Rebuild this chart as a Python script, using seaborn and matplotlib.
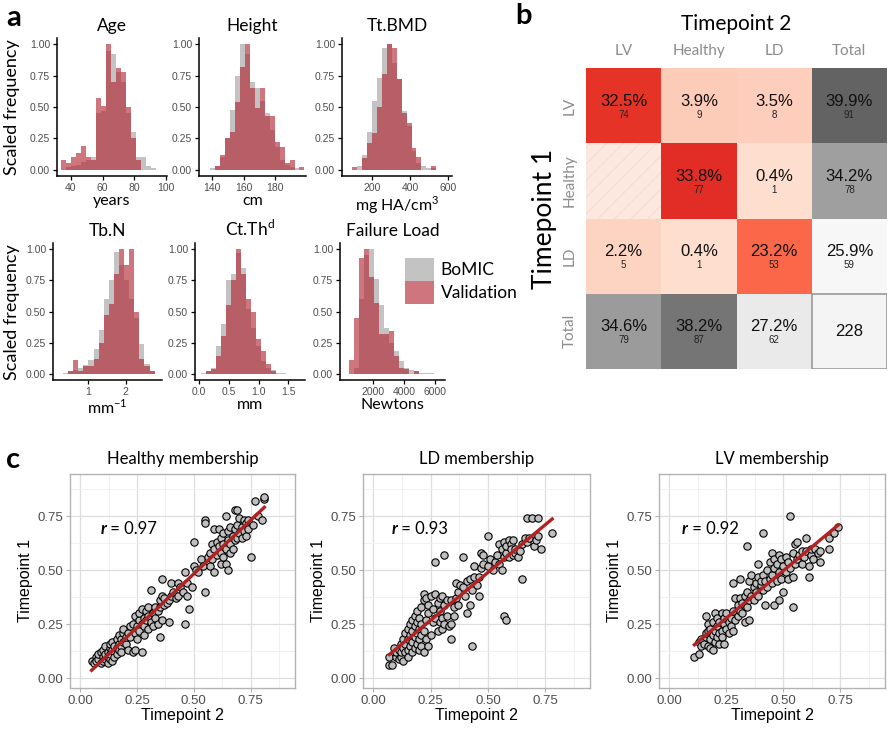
import numpy as np
import pandas as pd
import matplotlib
matplotlib.use("Agg")
import matplotlib.pyplot as plt
import seaborn as sns
from matplotlib.colors import LinearSegmentedColormap, ListedColormap
from matplotlib.patches import Rectangle, Patch

W, H = 890, 731
HUMAN = ["Lato", "DejaVu Sans"]
ARIAL = ["Liberation Sans", "DejaVu Sans"]
GREY = "#BDBDBD"
RED = "#B0202E"

# ---- panel a: scaled histograms (bin start, bin width, heights) ----
age_start, age_width = 33.7, 3.16
age_bomic = [0.00, 0.02, 0.03, 0.04, 0.06, 0.08, 0.10, 0.45, 0.47, 0.95, 0.92, 0.78, 0.70, 0.45, 0.30, 0.10, 0.10, 0.03, 0.01, 0.00]
age_valid = [0.08, 0.05, 0.10, 0.13, 0.19, 0.10, 0.08, 0.57, 0.51, 1.00, 0.70, 0.81, 0.78, 0.50, 0.25, 0.08, 0.00, 0.00, 0.00, 0.00]

height_start, height_width = 138.5, 3.16
height_bomic = [0.01, 0.03, 0.10, 0.25, 0.48, 0.75, 1.00, 0.92, 0.70, 0.65, 0.55, 0.45, 0.32, 0.18, 0.08, 0.04, 0.02, 0.01, 0.00]
height_valid = [0.00, 0.03, 0.12, 0.25, 0.30, 0.54, 0.82, 1.00, 0.65, 0.49, 0.65, 0.43, 0.43, 0.22, 0.18, 0.05, 0.08, 0.00, 0.02]

bmd_start, bmd_width = 96, 26
bmd_bomic = [0.00, 0.03, 0.12, 0.30, 0.55, 0.73, 0.97, 1.00, 0.85, 0.72, 0.47, 0.35, 0.15, 0.05, 0.03, 0.01, 0.01, 0.00]
bmd_valid = [0.02, 0.00, 0.09, 0.21, 0.29, 0.50, 0.76, 1.00, 0.97, 0.72, 0.45, 0.37, 0.17, 0.10, 0.00, 0.00, 0.03, 0.00]

tbn_start, tbn_width = 0.318, 0.1364
tbn_bomic = [0.01, 0.02, 0.03, 0.05, 0.07, 0.11, 0.20, 0.35, 0.60, 0.75, 0.98, 0.87, 0.75, 0.60, 0.45, 0.24, 0.08, 0.02]
tbn_valid = [0.00, 0.02, 0.11, 0.02, 0.06, 0.06, 0.12, 0.25, 0.47, 0.56, 0.80, 1.00, 0.87, 1.00, 0.50, 0.12, 0.06, 0.02]

ctth_start, ctth_width = 0.034, 0.0843
ctth_bomic = [0.01, 0.02, 0.05, 0.22, 0.40, 0.75, 0.80, 0.97, 0.85, 0.52, 0.37, 0.22, 0.10, 0.05, 0.03, 0.01, 0.01]
ctth_valid = [0.00, 0.02, 0.04, 0.14, 0.30, 0.55, 0.75, 1.00, 0.80, 0.60, 0.50, 0.28, 0.18, 0.08, 0.02, 0.00, 0.00]

fl_start, fl_width = 452, 322.6
fl_bomic = [0.00, 0.05, 0.60, 0.95, 1.00, 0.76, 0.55, 0.37, 0.25, 0.18, 0.10, 0.05, 0.03, 0.02, 0.01, 0.005, 0.005]
fl_valid = [0.11, 0.45, 0.93, 1.00, 0.78, 0.57, 0.32, 0.32, 0.34, 0.14, 0.05, 0.04, 0.00, 0.02, 0.00, 0.00, 0.00]

# ---- panel b: membership transitions (rows: timepoint 1, cols: timepoint 2) ----
groups = ["LV", "Healthy", "LD", "Total"]
counts = [[74, 9, 8, 91],
          [0, 77, 1, 78],
          [5, 1, 53, 59],
          [79, 87, 62, 228]]

# ---- panel c: membership scatter (timepoint 2 = x, timepoint 1 = y) ----
healthy_x = [0.05, 0.06, 0.07, 0.07, 0.08, 0.08, 0.09, 0.09, 0.10, 0.10, 0.10, 0.11, 0.11, 0.11, 0.12, 0.12, 0.12, 0.13, 0.13, 0.13,
             0.13, 0.14, 0.14, 0.14, 0.15, 0.15, 0.15, 0.16, 0.16, 0.16, 0.17, 0.17, 0.17, 0.18, 0.18, 0.18, 0.19, 0.19, 0.19, 0.20,
             0.20, 0.21, 0.21, 0.22, 0.22, 0.23, 0.23, 0.24, 0.24, 0.24, 0.25, 0.25, 0.26, 0.26, 0.26, 0.27, 0.27, 0.27, 0.28, 0.28,
             0.28, 0.29, 0.29, 0.30, 0.30, 0.30, 0.31, 0.31, 0.32, 0.32, 0.33, 0.33, 0.34, 0.34, 0.35, 0.35, 0.35, 0.36, 0.36, 0.36,
             0.37, 0.37, 0.38, 0.39, 0.39, 0.40, 0.40, 0.41, 0.42, 0.43, 0.43, 0.44, 0.45, 0.46, 0.46, 0.47, 0.47, 0.48, 0.49, 0.50,
             0.50, 0.51, 0.52, 0.53, 0.54, 0.55, 0.55, 0.55, 0.56, 0.57, 0.57, 0.58, 0.58, 0.59, 0.59, 0.59, 0.60, 0.60, 0.61, 0.61,
             0.62, 0.62, 0.62, 0.63, 0.63, 0.63, 0.64, 0.64, 0.64, 0.65, 0.65, 0.65, 0.66, 0.66, 0.66, 0.67, 0.67, 0.68, 0.68, 0.68,
             0.69, 0.69, 0.69, 0.70, 0.70, 0.71, 0.71, 0.72, 0.72, 0.73, 0.73, 0.74, 0.74, 0.75, 0.76, 0.77, 0.78, 0.80, 0.81, 0.81]
healthy_y = [0.08, 0.07, 0.10, 0.08, 0.09, 0.11, 0.07, 0.12, 0.10, 0.08, 0.13, 0.09, 0.11, 0.15, 0.12, 0.10, 0.07, 0.14, 0.09, 0.16,
             0.11, 0.13, 0.08, 0.17, 0.12, 0.15, 0.10, 0.14, 0.18, 0.11, 0.16, 0.13, 0.20, 0.15, 0.18, 0.12, 0.21, 0.17, 0.23, 0.16,
             0.19, 0.21, 0.13, 0.19, 0.24, 0.12, 0.25, 0.29, 0.13, 0.21, 0.24, 0.18, 0.22, 0.27, 0.30, 0.25, 0.12, 0.32, 0.28, 0.24,
             0.20, 0.31, 0.27, 0.29, 0.33, 0.23, 0.41, 0.26, 0.30, 0.24, 0.33, 0.28, 0.31, 0.25, 0.19, 0.33, 0.36, 0.38, 0.46, 0.27,
             0.34, 0.37, 0.35, 0.26, 0.36, 0.44, 0.38, 0.40, 0.37, 0.44, 0.38, 0.42, 0.40, 0.25, 0.49, 0.38, 0.44, 0.32, 0.42, 0.52,
             0.63, 0.50, 0.49, 0.55, 0.52, 0.73, 0.72, 0.40, 0.56, 0.58, 0.52, 0.62, 0.55, 0.60, 0.49, 0.69, 0.63, 0.57, 0.69, 0.61,
             0.65, 0.58, 0.53, 0.62, 0.67, 0.56, 0.75, 0.60, 0.53, 0.50, 0.64, 0.68, 0.70, 0.62, 0.58, 0.66, 0.60, 0.78, 0.69, 0.64,
             0.78, 0.71, 0.65, 0.67, 0.74, 0.70, 0.65, 0.73, 0.68, 0.66, 0.72, 0.69, 0.73, 0.56, 0.71, 0.82, 0.75, 0.73, 0.83, 0.84]

ld_x = [0.07, 0.08, 0.07, 0.09, 0.10, 0.10, 0.11, 0.11, 0.12, 0.12, 0.12, 0.13, 0.13, 0.13, 0.14, 0.14, 0.14, 0.15, 0.15, 0.15,
        0.15, 0.16, 0.16, 0.16, 0.17, 0.17, 0.17, 0.17, 0.18, 0.18, 0.18, 0.18, 0.19, 0.19, 0.19, 0.19, 0.20, 0.20, 0.20, 0.20,
        0.21, 0.21, 0.21, 0.21, 0.22, 0.22, 0.22, 0.22, 0.23, 0.23, 0.23, 0.24, 0.24, 0.24, 0.25, 0.25, 0.26, 0.26, 0.27, 0.27,
        0.27, 0.28, 0.28, 0.29, 0.29, 0.29, 0.30, 0.30, 0.30, 0.31, 0.31, 0.31, 0.32, 0.32, 0.33, 0.34, 0.34, 0.34, 0.35, 0.35,
        0.36, 0.36, 0.37, 0.37, 0.38, 0.39, 0.39, 0.40, 0.41, 0.41, 0.42, 0.42, 0.43, 0.43, 0.44, 0.44, 0.45, 0.46, 0.46, 0.47,
        0.47, 0.48, 0.48, 0.50, 0.50, 0.51, 0.52, 0.53, 0.54, 0.55, 0.55, 0.56, 0.56, 0.57, 0.57, 0.57, 0.58, 0.58, 0.58, 0.59,
        0.59, 0.60, 0.60, 0.61, 0.61, 0.62, 0.62, 0.63, 0.64, 0.65, 0.65, 0.66, 0.67, 0.67, 0.68, 0.69, 0.70, 0.71, 0.72, 0.72,
        0.73, 0.78]
ld_y = [0.06, 0.06, 0.10, 0.14, 0.10, 0.12, 0.09, 0.13, 0.10, 0.16, 0.12, 0.08, 0.14, 0.18, 0.12, 0.16, 0.21, 0.13, 0.18, 0.23,
        0.10, 0.15, 0.20, 0.25, 0.12, 0.17, 0.22, 0.27, 0.14, 0.19, 0.24, 0.29, 0.16, 0.21, 0.26, 0.31, 0.13, 0.18, 0.23, 0.28,
        0.15, 0.20, 0.25, 0.33, 0.12, 0.22, 0.36, 0.39, 0.18, 0.27, 0.37, 0.15, 0.30, 0.34, 0.20, 0.38, 0.26, 0.32, 0.54, 0.28,
        0.39, 0.22, 0.35, 0.26, 0.37, 0.31, 0.23, 0.38, 0.28, 0.57, 0.34, 0.25, 0.29, 0.36, 0.24, 0.18, 0.25, 0.36, 0.33, 0.29,
        0.44, 0.37, 0.34, 0.40, 0.43, 0.56, 0.42, 0.38, 0.30, 0.45, 0.34, 0.46, 0.15, 0.41, 0.47, 0.52, 0.43, 0.38, 0.47, 0.58,
        0.51, 0.53, 0.57, 0.66, 0.52, 0.55, 0.50, 0.54, 0.57, 0.53, 0.62, 0.60, 0.50, 0.29, 0.56, 0.63, 0.27, 0.58, 0.61, 0.64,
        0.56, 0.62, 0.60, 0.57, 0.64, 0.58, 0.60, 0.56, 0.59, 0.46, 0.62, 0.65, 0.74, 0.63, 0.65, 0.74, 0.61, 0.64, 0.74, 0.66,
        0.60, 0.67]

lv_x = [0.11, 0.13, 0.13, 0.14, 0.14, 0.15, 0.16, 0.16, 0.16, 0.17, 0.17, 0.17, 0.18, 0.18, 0.18, 0.19, 0.19, 0.19, 0.20, 0.20,
        0.20, 0.21, 0.21, 0.21, 0.22, 0.22, 0.22, 0.23, 0.23, 0.23, 0.24, 0.24, 0.24, 0.25, 0.25, 0.26, 0.26, 0.27, 0.27, 0.28,
        0.28, 0.28, 0.29, 0.29, 0.30, 0.30, 0.31, 0.31, 0.31, 0.32, 0.32, 0.33, 0.33, 0.34, 0.34, 0.34, 0.35, 0.35, 0.35, 0.36,
        0.36, 0.37, 0.37, 0.38, 0.38, 0.39, 0.39, 0.39, 0.40, 0.40, 0.41, 0.41, 0.41, 0.42, 0.42, 0.43, 0.43, 0.44, 0.44, 0.45,
        0.45, 0.45, 0.46, 0.46, 0.46, 0.47, 0.47, 0.48, 0.48, 0.48, 0.49, 0.49, 0.50, 0.50, 0.51, 0.51, 0.52, 0.52, 0.53, 0.53,
        0.54, 0.54, 0.54, 0.55, 0.55, 0.56, 0.56, 0.57, 0.58, 0.58, 0.59, 0.60, 0.60, 0.61, 0.61, 0.62, 0.62, 0.63, 0.64, 0.65,
        0.66, 0.66, 0.70, 0.70, 0.72, 0.74]
lv_y = [0.10, 0.11, 0.17, 0.15, 0.18, 0.16, 0.29, 0.19, 0.21, 0.15, 0.22, 0.25, 0.18, 0.14, 0.23, 0.20, 0.13, 0.26, 0.17, 0.22,
        0.30, 0.19, 0.24, 0.28, 0.16, 0.21, 0.26, 0.22, 0.30, 0.19, 0.25, 0.16, 0.28, 0.23, 0.30, 0.26, 0.21, 0.28, 0.24, 0.44,
        0.22, 0.31, 0.27, 0.37, 0.29, 0.34, 0.46, 0.31, 0.37, 0.35, 0.30, 0.38, 0.26, 0.61, 0.33, 0.40, 0.36, 0.27, 0.45, 0.48,
        0.38, 0.42, 0.36, 0.44, 0.40, 0.53, 0.47, 0.38, 0.43, 0.45, 0.67, 0.41, 0.48, 0.34, 0.45, 0.50, 0.42, 0.46, 0.54, 0.48,
        0.44, 0.58, 0.34, 0.51, 0.55, 0.45, 0.53, 0.57, 0.49, 0.36, 0.55, 0.46, 0.52, 0.40, 0.56, 0.49, 0.54, 0.46, 0.75, 0.51,
        0.33, 0.58, 0.47, 0.62, 0.53, 0.55, 0.63, 0.57, 0.59, 0.53, 0.56, 0.65, 0.59, 0.47, 0.52, 0.57, 0.60, 0.55, 0.60, 0.58,
        0.54, 0.59, 0.60, 0.65, 0.67, 0.70]

plt.rcParams["font.family"] = ARIAL
plt.rcParams["hatch.linewidth"] = 0.6
fig = plt.figure(figsize=(8.9, 7.31), dpi=100)


def px_axes(l, t, r, b):
    return fig.add_axes([l / W, 1 - b / H, (r - l) / W, (b - t) / H])


# ---------------- panel a ----------------
hist_specs = [
    ("Age", "years", age_start, age_width, age_bomic, age_valid, (31.2, 100.6), [40, 60, 80, 100], (57, 38, 167, 176)),
    ("Height", "cm", height_start, height_width, height_bomic, height_valid, (131.7, 199.5), [140, 160, 180], (199, 38, 306, 176)),
    ("Tt.BMD", "mg HA/cm$^\\mathregular{3}$", bmd_start, bmd_width, bmd_bomic, bmd_valid, (42, 621), [200, 400, 600], (342, 38, 452, 176)),
    ("Tb.N", "mm$^\\mathregular{-1}$", tbn_start, tbn_width, tbn_bomic, tbn_valid, (0.05, 2.97), [1, 2], (53, 243, 162, 380)),
    ("Ct.Th$^\\mathregular{d}$", "mm", ctth_start, ctth_width, ctth_bomic, ctth_valid, (-0.07, 1.78), [0.0, 0.5, 1.0, 1.5], (195, 243, 305, 380)),
    ("Failure Load", "Newtons", fl_start, fl_width, fl_bomic, fl_valid, (-130, 6650), [2000, 4000, 6000], (340, 243, 445, 380)),
]

for name, unit, start, width, bomic, valid, xlim, xticks, box in hist_specs:
    ax = px_axes(*box)
    nb = len(bomic)
    centers = start + width * (np.arange(nb) + 0.5)
    df = pd.DataFrame({"x": centers, "bomic": bomic, "valid": valid})
    rng = (start, start + width * nb)
    sns.histplot(data=df, x="x", weights="bomic", binwidth=width, binrange=rng,
                 color=GREY, alpha=0.9, linewidth=0, ax=ax)
    sns.histplot(data=df, x="x", weights="valid", binwidth=width, binrange=rng,
                 color=RED, alpha=0.62, linewidth=0, ax=ax)
    ax.set_xlim(*xlim)
    ax.set_ylim(-0.05, 1.05)
    ax.set_xticks(xticks)
    if name.startswith("Ct"):
        ax.set_xticklabels([f"{t:.1f}" for t in xticks])
    ax.set_yticks([0, 0.25, 0.5, 0.75, 1.0])
    ax.set_yticklabels(["0.00", "0.25", "0.50", "0.75", "1.00"])
    ax.tick_params(labelsize=7.5, labelcolor="#4D4D4D", length=3, width=0.9, pad=2)
    for s in ["top", "right"]:
        ax.spines[s].set_visible(False)
    for s in ["left", "bottom"]:
        ax.spines[s].set_linewidth(1.1)
    ax.set_ylabel("")
    ax.set_xlabel(unit, fontsize=11.5, family=HUMAN, labelpad=1)
    ax.set_title(name, fontsize=12.5, family=HUMAN, pad=5)

fig.text(12 / W, 1 - 107 / H, "Scaled frequency", rotation=90, ha="center", va="center", fontsize=13, family=HUMAN)
fig.text(12 / W, 1 - 312 / H, "Scaled frequency", rotation=90, ha="center", va="center", fontsize=13, family=HUMAN)

leg_handles = [Patch(facecolor=GREY, alpha=0.9, linewidth=0), Patch(facecolor=RED, alpha=0.62, linewidth=0)]
fig.legend(leg_handles, ["BoMIC", "Validation"], loc="upper left", bbox_to_anchor=(398 / W, 1 - 251 / H),
           frameon=False, prop={"family": HUMAN, "size": 12.5}, handlelength=1.65, handleheight=1.65,
           handletextpad=0.4, labelspacing=0.0, borderaxespad=0)

# ---------------- panel b ----------------
mat = np.array(counts)
pct = mat / mat[-1, -1] * 100
n = len(groups) - 1
inner_mask = np.ones(mat.shape, bool)
inner_mask[:n, :n] = False
total_mask = np.ones(mat.shape, bool)
total_mask[n, :n] = False
total_mask[:n, n] = False
grand_mask = np.ones(mat.shape, bool)
grand_mask[n, n] = False

axb = px_axes(586, 68, 887, 369)
grey_cmap = LinearSegmentedColormap.from_list("tot", ["#F7F7F7", "#636363"])
sns.heatmap(pct, mask=inner_mask, cmap="Reds", vmin=-8, vmax=54, cbar=False, ax=axb,
            xticklabels=groups, yticklabels=groups)
sns.heatmap(pct, mask=total_mask, cmap=grey_cmap, vmin=25.9, vmax=39.9, cbar=False, ax=axb,
            xticklabels=groups, yticklabels=groups)
sns.heatmap(pct, mask=grand_mask, cmap=ListedColormap(["#F4F4F4"]), cbar=False, ax=axb,
            xticklabels=groups, yticklabels=groups)

for i, j in np.argwhere(mat == 0):
    axb.add_patch(Rectangle((j, i), 1, 1, facecolor="#FDE8DF", hatch="//", edgecolor="#F5D8CC", linewidth=0))
axb.add_patch(Rectangle((n, n), 1, 1, fill=False, edgecolor="#9A9A9A", linewidth=1.2))

for i in range(len(groups)):
    for j in range(len(groups)):
        if mat[i, j] == 0:
            continue
        if i == n and j == n:
            axb.text(j + 0.5, i + 0.5, str(mat[i, j]), ha="center", va="center", fontsize=12, color="#111111")
        else:
            axb.text(j + 0.5, i + 0.44, f"{pct[i, j]:.1f}%", ha="center", va="center", fontsize=12, color="#111111")
            axb.text(j + 0.5, i + 0.62, str(mat[i, j]), ha="center", va="center", fontsize=7, color="#222222")

axb.xaxis.tick_top()
axb.xaxis.set_label_position("top")
axb.tick_params(length=0, labelsize=11, labelcolor="#8C8C8C", pad=7)
for lab in axb.get_xticklabels():
    lab.set_family(HUMAN)
for lab in axb.get_yticklabels():
    lab.set_family(HUMAN)
    lab.set_rotation(90)
    lab.set_va("center")
axb.set_xlabel("Timepoint 2", fontsize=15, family=HUMAN, labelpad=10)
axb.set_ylabel("Timepoint 1", fontsize=19, family=HUMAN, labelpad=4)

# ---------------- panel c ----------------
scatter_specs = [
    ("Healthy membership", healthy_x, healthy_y, "0.97", 0.088, (70, 474, 295, 688)),
    ("LD membership", ld_x, ld_y, "0.93", 0.078, (363, 474, 590, 688)),
    ("LV membership", lv_x, lv_y, "0.92", 0.055, (659, 474, 885, 688)),
]
ticks = [0, 0.25, 0.5, 0.75]
for title, xs, ys, rval, rx, box in scatter_specs:
    ax = px_axes(*box)
    ax.set_axisbelow(True)
    sns.scatterplot(x=xs, y=ys, color="#BFBFBF", edgecolor="black", linewidth=0.8, s=28, ax=ax, zorder=3)
    sns.regplot(x=xs, y=ys, scatter=False, ci=None, color="#B22222", line_kws={"lw": 2.4, "zorder": 4}, ax=ax)
    ax.set_xlim(-0.045, 0.945)
    ax.set_ylim(-0.045, 0.945)
    ax.set_xticks(ticks)
    ax.set_yticks(ticks)
    ax.set_xticklabels(["0.00", "0.25", "0.50", "0.75"])
    ax.set_yticklabels(["0.00", "0.25", "0.50", "0.75"])
    ax.set_xticks([0.125, 0.375, 0.625, 0.875], minor=True)
    ax.set_yticks([0.125, 0.375, 0.625, 0.875], minor=True)
    ax.grid(which="major", color="#DEDEDE", lw=0.9)
    ax.grid(which="minor", color="#EFEFEF", lw=0.6)
    ax.tick_params(which="major", labelsize=9.5, labelcolor="#4D4D4D", color="#B3B3B3", length=3, pad=2)
    ax.tick_params(which="minor", length=0)
    for s in ax.spines.values():
        s.set_color("#B3B3B3")
        s.set_linewidth(1)
    ax.set_xlabel("Timepoint 2", fontsize=11.5, labelpad=1)
    ax.set_ylabel("Timepoint 1", fontsize=11.5, labelpad=3)
    ax.set_title(title, fontsize=12, family=HUMAN, pad=7)
    t = ax.text(rx, 0.69, "r", fontsize=12, fontweight="bold", style="italic", family=HUMAN, va="center")
    ax.annotate(f" = {rval}", xy=(1, 0), xycoords=t, va="bottom", fontsize=12, family=HUMAN)

fig.text(6 / W, 1 - 18 / H, "a", fontsize=21, fontweight="bold", family=HUMAN, va="center")
fig.text(515 / W, 1 - 16 / H, "b", fontsize=21, fontweight="bold", family=HUMAN, va="center")
fig.text(6 / W, 1 - 460 / H, "c", fontsize=21, fontweight="bold", family=HUMAN, va="center")

fig.savefig("out.png", dpi=100)
